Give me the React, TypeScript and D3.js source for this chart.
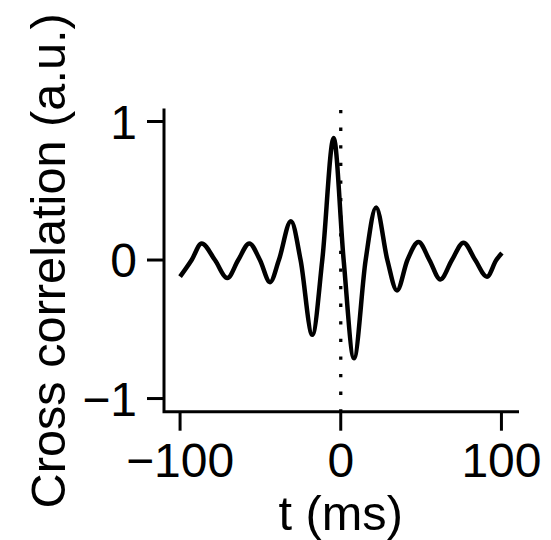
import React from "react";
import * as d3 from "d3";

// Lag (ms) and cross-correlation values
const lagMs: number[] = [
  -100, -92.8, -86.6, -78.3, -70.6, -63.8, -56.9, -50.3, -44, -38.5, -31, -25,
  -17.7, -11.5, -4.4, 1.8, 8.2, 15.5, 22, 29, 35, 41.5, 48.4, 55.2, 62, 69.2,
  76.4, 83.7, 91, 96.8, 100.3,
];
const crossCorr: number[] = [
  -0.12, 0, 0.12, 0, -0.13, 0, 0.12, 0, -0.16, 0, 0.28, 0, -0.54, 0, 0.88, 0,
  -0.71, 0, 0.38, 0, -0.22, 0, 0.13, 0, -0.14, 0, 0.125, 0, -0.12, 0, 0.05,
];
const xTicks: number[] = [-100, 0, 100];
const yTicks: number[] = [-1, 0, 1];
const xTickLabels: string[] = ["\u2212100", "0", "100"];
const yTickLabels: string[] = ["\u22121", "0", "1"];
const xTitle = "t (ms)";
const yTitle = "Cross correlation (a.u.)";

const W = 551;
const H = 540;
const FONT = "'Liberation Sans', Arial, Helvetica, sans-serif";
const FS = 48;
const FS_TITLE = 48.7;

export default function App() {
  const x = d3.scaleLinear().domain([-110, 110]).range([164, 517.5]);
  const y = d3.scaleLinear().domain([-1.095, 1.083]).range([411.7, 110]);
  const [x0, x1] = x.range();
  const [yb, yt] = y.range();

  const pts: [number, number][] = lagMs.map((t, i) => [t, crossCorr[i]]);
  const line = d3
    .line<[number, number]>()
    .x((d) => x(d[0]))
    .y((d) => y(d[1]))
    .curve(d3.curveMonotoneX);

  const tickLen = 17;

  return (
    <svg
      width={W}
      height={H}
      style={{ position: "absolute", left: 0, top: 0, background: "#fff" }}
      fontFamily={FONT}
    >
      {/* dotted zero-lag line */}
      <line
        x1={x(0)}
        x2={x(0)}
        y1={yt}
        y2={yb}
        stroke="#000"
        strokeWidth={3.3}
        strokeDasharray="3.3 14.3"
      />
      {/* curve */}
      <path d={line(pts) || ""} fill="none" stroke="#000" strokeWidth={4.5} strokeLinejoin="round" />
      {/* axes (L-shaped box) */}
      <path
        d={`M${x0},${yt}V${yb}H${x1}`}
        fill="none"
        stroke="#000"
        strokeWidth={3}
        strokeLinecap="square"
      />
      {yTicks.map((v, i) => (
        <g key={"y" + v}>
          <line x1={x0 - tickLen} x2={x0} y1={y(v)} y2={y(v)} stroke="#000" strokeWidth={3} />
          <text
            x={x0 - tickLen - 10}
            y={y(v)}
            dy="0.36em"
            textAnchor="end"
            fontSize={FS}
          >
            {yTickLabels[i]}
          </text>
        </g>
      ))}
      {xTicks.map((v, i) => (
        <g key={"x" + v}>
          <line x1={x(v)} x2={x(v)} y1={yb} y2={yb + tickLen + 2} stroke="#000" strokeWidth={3} />
          <text x={x(v)} y={477} textAnchor="middle" fontSize={FS}>
            {xTickLabels[i]}
          </text>
        </g>
      ))}
      <text x={(x(-100) + x(100)) / 2} y={530} textAnchor="middle" fontSize={FS_TITLE}>
        {xTitle}
      </text>
      <text
        transform={`translate(64.5,${(yt + yb) / 2}) rotate(-90)`}
        textAnchor="middle"
        fontSize={FS_TITLE}
      >
        {yTitle}
      </text>
    </svg>
  );
}
